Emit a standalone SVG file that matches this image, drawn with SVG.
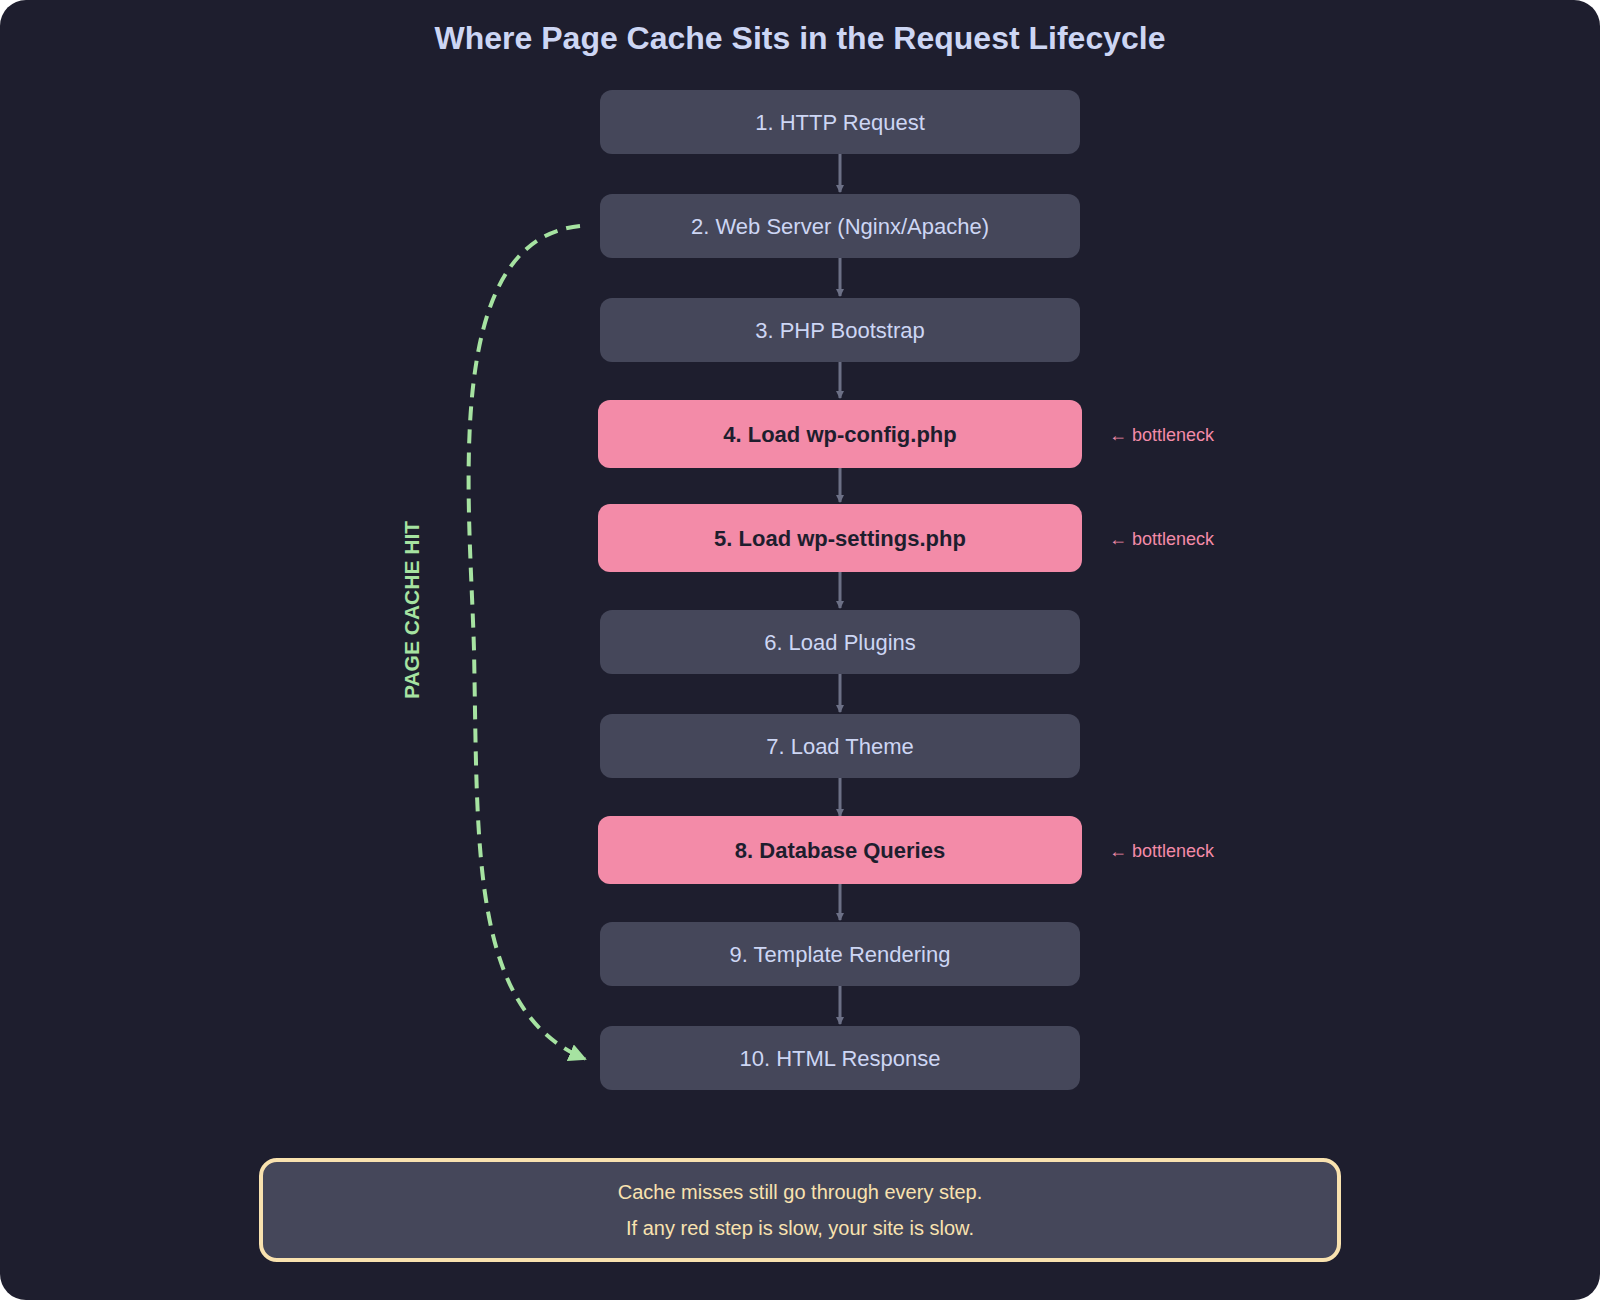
<svg xmlns="http://www.w3.org/2000/svg" width="1600" height="1300" viewBox="0 0 1600 1300">
<style>
text{font-family:"Helvetica Neue","Liberation Sans",Arial,sans-serif}
.n rect{fill:#45475a}
.n text{fill:#cdd6f4;font-size:22px;text-anchor:middle;dominant-baseline:central}
.r rect{fill:#f38ba8}
.r text{fill:#1e1e2e;font-size:22px;font-weight:bold;text-anchor:middle;dominant-baseline:central}
.b{fill:#f38ba8;font-size:18px;dominant-baseline:central}
.c line{stroke:#6c7086;stroke-width:3}
</style>
<defs>
<marker id="a" markerWidth="8" markerHeight="8" refX="7" refY="4" orient="auto" markerUnits="userSpaceOnUse" viewBox="0 0 8 8"><path d="M0,0L8,4L0,8z" fill="#6c7086"/></marker>
<marker id="g" markerWidth="18" markerHeight="18" refX="16" refY="9" orient="auto" markerUnits="userSpaceOnUse"><path d="M0,0L18,9L0,18z" fill="#a6e3a1"/></marker>
</defs>
<rect width="1600" height="1300" rx="26" fill="#1e1e2e"/>
<text x="800" y="38" fill="#cdd6f4" font-size="32" font-weight="bold" text-anchor="middle" dominant-baseline="central">Where Page Cache Sits in the Request Lifecycle</text>
<g class="c">
<line x1="840" y1="154" x2="840" y2="192" marker-end="url(#a)"/>
<line x1="840" y1="258" x2="840" y2="296" marker-end="url(#a)"/>
<line x1="840" y1="362" x2="840" y2="398" marker-end="url(#a)"/>
<line x1="840" y1="468" x2="840" y2="502" marker-end="url(#a)"/>
<line x1="840" y1="572" x2="840" y2="608" marker-end="url(#a)"/>
<line x1="840" y1="674" x2="840" y2="712" marker-end="url(#a)"/>
<line x1="840" y1="778" x2="840" y2="816" marker-end="url(#a)"/>
<line x1="840" y1="884" x2="840" y2="920" marker-end="url(#a)"/>
<line x1="840" y1="986" x2="840" y2="1024" marker-end="url(#a)"/>
<path d="M580 226 C440 240,470 500,474 650 C478 850,470 1010,585 1059" fill="none" stroke="#a6e3a1" stroke-width="4" stroke-dasharray="14 9" marker-end="url(#g)"/>
</g>
<g id="n1" class="n"><rect x="600" y="90" width="480" height="64" rx="12"/><text x="840" y="122">1. HTTP Request</text></g>
<g id="n2" class="n"><rect x="600" y="194" width="480" height="64" rx="12"/><text x="840" y="226">2. Web Server (Nginx/Apache)</text></g>
<g id="n3" class="n"><rect x="600" y="298" width="480" height="64" rx="12"/><text x="840" y="330">3. PHP Bootstrap</text></g>
<g id="n4" class="r"><rect x="598" y="400" width="484" height="68" rx="12"/><text x="840" y="434">4. Load wp-config.php</text></g>
<g id="n5" class="r"><rect x="598" y="504" width="484" height="68" rx="12"/><text x="840" y="538">5. Load wp-settings.php</text></g>
<g id="n6" class="n"><rect x="600" y="610" width="480" height="64" rx="12"/><text x="840" y="642">6. Load Plugins</text></g>
<g id="n7" class="n"><rect x="600" y="714" width="480" height="64" rx="12"/><text x="840" y="746">7. Load Theme</text></g>
<g id="n8" class="r"><rect x="598" y="816" width="484" height="68" rx="12"/><text x="840" y="850">8. Database Queries</text></g>
<g id="n9" class="n"><rect x="600" y="922" width="480" height="64" rx="12"/><text x="840" y="954">9. Template Rendering</text></g>
<g id="n10" class="n"><rect x="600" y="1026" width="480" height="64" rx="12"/><text x="840" y="1058">10. HTML Response</text></g>
<text class="b" x="1109" y="435">← bottleneck</text>
<text class="b" x="1109" y="539">← bottleneck</text>
<text class="b" x="1109" y="851">← bottleneck</text>
<text x="0" y="0" transform="translate(411 610) rotate(-90)" fill="#a6e3a1" font-size="21" font-weight="bold" text-anchor="middle" dominant-baseline="central">PAGE CACHE HIT</text>
<g id="note"><rect x="261" y="1160" width="1078" height="100" rx="16" fill="#45475a" stroke="#f9e2af" stroke-width="4"/>
<text x="800" y="1192" fill="#f9e2af" font-size="20" text-anchor="middle" dominant-baseline="central">Cache misses still go through every step.</text>
<text x="800" y="1228" fill="#f9e2af" font-size="20" text-anchor="middle" dominant-baseline="central">If any red step is slow, your site is slow.</text></g>
</svg>
